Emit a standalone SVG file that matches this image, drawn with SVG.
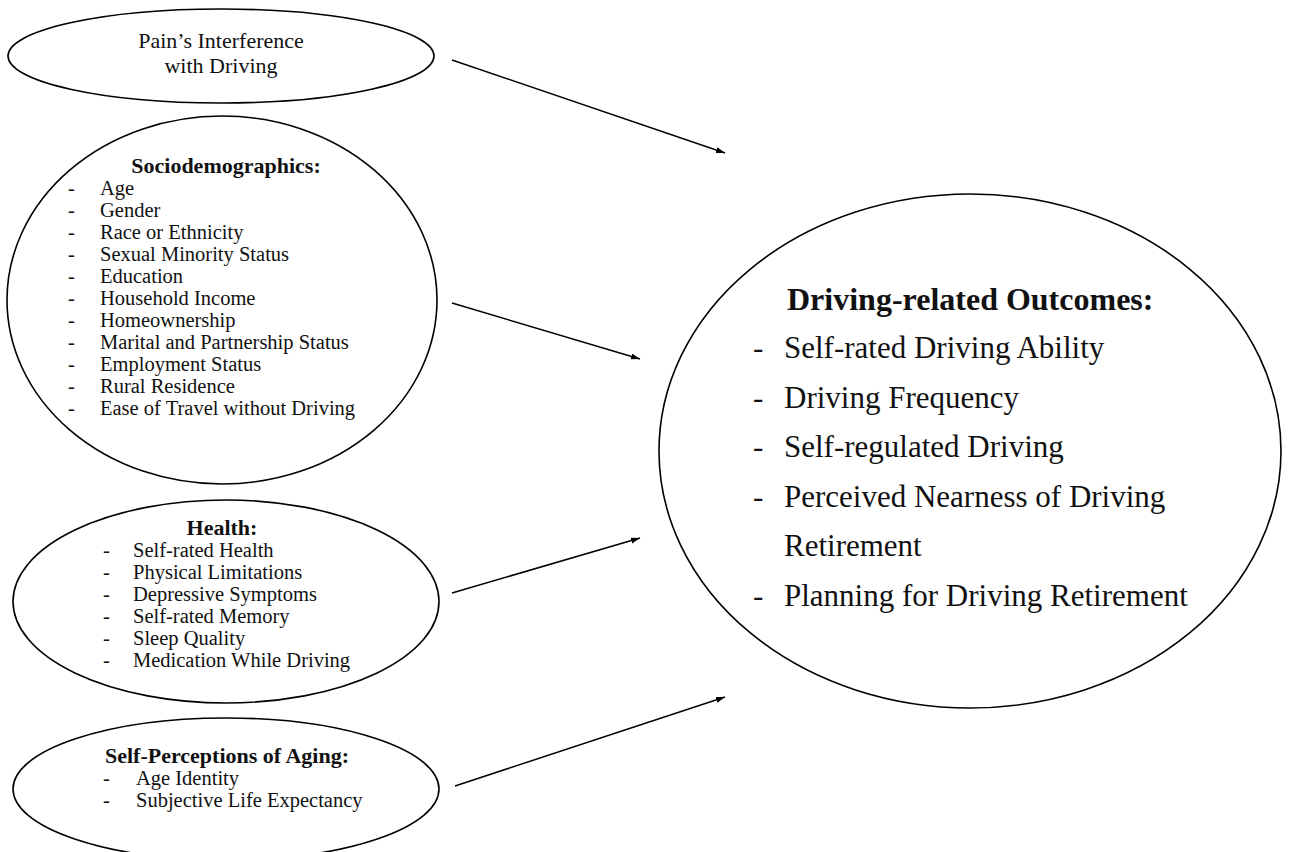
<svg xmlns="http://www.w3.org/2000/svg" width="1289" height="852" viewBox="0 0 1289 852">
<style>
.shape{fill:none;stroke:#000;stroke-width:1.6}
.t{font-family:"Liberation Serif","Times New Roman",serif;fill:#111}
.s{font-size:20.5px}
.h{font-size:22px;font-weight:bold}
.p{font-size:22px}
.bh{font-size:32px;font-weight:bold}
.bi{font-size:31px}
.conn{stroke:#000;stroke-width:1.5;fill:none}
</style>
<defs>
<marker id="arr" markerUnits="userSpaceOnUse" markerWidth="10" markerHeight="8" refX="9" refY="3" orient="auto">
<path d="M0,0 L9,3 L0,6 z" fill="#000"/>
</marker>
</defs>
<rect width="1289" height="852" fill="#fff"/>
<g id="pain">
<ellipse class="shape" cx="221" cy="56" rx="213" ry="47"/>
<text class="t p" x="221" y="48" text-anchor="middle">Pain’s Interference</text>
<text class="t p" x="221" y="73" text-anchor="middle">with Driving</text>
</g>
<g id="socio">
<ellipse class="shape" cx="222" cy="300" rx="215" ry="184"/>
<text class="t h" x="226" y="173" text-anchor="middle">Sociodemographics:</text>
<g class="t s">
<text x="68" y="195">-</text><text x="100" y="195">Age</text>
<text x="68" y="217">-</text><text x="100" y="217">Gender</text>
<text x="68" y="239">-</text><text x="100" y="239">Race or Ethnicity</text>
<text x="68" y="261">-</text><text x="100" y="261">Sexual Minority Status</text>
<text x="68" y="283">-</text><text x="100" y="283">Education</text>
<text x="68" y="305">-</text><text x="100" y="305">Household Income</text>
<text x="68" y="327">-</text><text x="100" y="327">Homeownership</text>
<text x="68" y="349">-</text><text x="100" y="349">Marital and Partnership Status</text>
<text x="68" y="371">-</text><text x="100" y="371">Employment Status</text>
<text x="68" y="393">-</text><text x="100" y="393">Rural Residence</text>
<text x="68" y="415">-</text><text x="100" y="415">Ease of Travel without Driving</text>
</g>
</g>
<g id="health">
<ellipse class="shape" cx="226" cy="601.5" rx="213" ry="101.5"/>
<text class="t h" x="222" y="535" text-anchor="middle">Health:</text>
<g class="t s">
<text x="103" y="557">-</text><text x="133" y="557">Self-rated Health</text>
<text x="103" y="579">-</text><text x="133" y="579">Physical Limitations</text>
<text x="103" y="601">-</text><text x="133" y="601">Depressive Symptoms</text>
<text x="103" y="623">-</text><text x="133" y="623">Self-rated Memory</text>
<text x="103" y="645">-</text><text x="133" y="645">Sleep Quality</text>
<text x="103" y="667">-</text><text x="133" y="667">Medication While Driving</text>
</g>
</g>
<g id="aging">
<ellipse class="shape" cx="226" cy="789" rx="213" ry="71"/>
<text class="t h" x="227" y="763" text-anchor="middle">Self-Perceptions of Aging:</text>
<g class="t s">
<text x="103" y="785">-</text><text x="136" y="785">Age Identity</text>
<text x="103" y="807">-</text><text x="136" y="807">Subjective Life Expectancy</text>
</g>
</g>
<g id="outcomes">
<ellipse class="shape" cx="970" cy="451" rx="311" ry="257"/>
<text class="t bh" x="787" y="310">Driving-related Outcomes:</text>
<g class="t bi">
<text x="753" y="358">-</text><text x="784" y="358">Self-rated Driving Ability</text>
<text x="753" y="407.5">-</text><text x="784" y="407.5">Driving Frequency</text>
<text x="753" y="457">-</text><text x="784" y="457">Self-regulated Driving</text>
<text x="753" y="506.5">-</text><text x="784" y="506.5">Perceived Nearness of Driving</text>
<text x="784" y="556">Retirement</text>
<text x="753" y="605.5">-</text><text x="784" y="605.5">Planning for Driving Retirement</text>
</g>
</g>
<g id="connectors">
<line class="conn" x1="452" y1="60" x2="725" y2="153" marker-end="url(#arr)"/>
<line class="conn" x1="452" y1="303" x2="640" y2="359" marker-end="url(#arr)"/>
<line class="conn" x1="452" y1="593" x2="640" y2="538" marker-end="url(#arr)"/>
<line class="conn" x1="455" y1="786" x2="725" y2="697" marker-end="url(#arr)"/>
</g>
</svg>
